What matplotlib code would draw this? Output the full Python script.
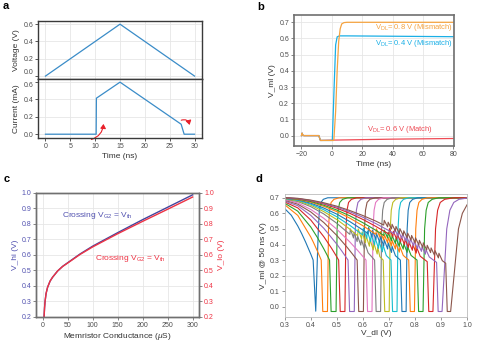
import matplotlib as mpl
mpl.use('Agg')
import matplotlib.pyplot as plt
from matplotlib.patches import FancyArrowPatch

plt.rcParams['font.family'] = ['Liberation Sans', 'DejaVu Sans']
plt.rcParams['mathtext.fontset'] = 'custom'
plt.rcParams['mathtext.rm'] = 'Liberation Sans'
plt.rcParams['mathtext.it'] = 'Liberation Sans:italic'

# ---------------- data ----------------
# panel a
a_t_volt = [0, 15, 30]
a_volt = [0.0, 0.6, 0.0]
a_t_cur = [0, 10.2, 10.25, 15, 27.3, 27.9, 30]
a_cur = [0.0, 0.0, 0.415, 0.6, 0.115, 0.0, 0.0]

# panel b
b_t_08 = [-20, -19.6, -19.2, -18.5, -8.6, -7.5, 1.3, 2.5, 3.5, 4.5, 5.5, 6.5, 8, 10, 80]
b_v_08 = [0.0, 0.015, 0.004, 0.0, 0.0, -0.03, -0.03, 0.15, 0.4, 0.58, 0.66, 0.69, 0.698, 0.70, 0.70]
b_t_04 = [-20, -19.6, -19.2, -18.5, -8.6, -7.5, 0.3, 1.5, 2.5, 3.5, 5, 10, 80]
b_v_04 = [0.0, 0.015, 0.004, 0.0, 0.0, -0.03, -0.03, 0.3, 0.56, 0.61, 0.616, 0.616, 0.611]
b_t_06 = [-20, -19.6, -19.2, -18.5, -8.6, -7.5, 0, 20, 40, 60, 80]
b_v_06 = [0.0, 0.015, 0.004, 0.0, 0.0, -0.03, -0.028, -0.025, -0.022, -0.02, -0.018]

# panel c
c_g = [3, 4, 5, 7, 10, 15, 20, 25, 30, 40, 50, 75, 100, 150, 200, 250, 300]
c_vhi = [0.2, 0.26, 0.3, 0.35, 0.39, 0.43, 0.455, 0.475, 0.495, 0.525, 0.548,
         0.605, 0.655, 0.742, 0.826, 0.906, 0.986]
c_vlo = [0.2, 0.26, 0.3, 0.35, 0.39, 0.43, 0.455, 0.475, 0.495, 0.524, 0.546,
         0.602, 0.65, 0.735, 0.815, 0.893, 0.972]

# panel d : one list of (V_dl, V_ml) points per sweep
d01 = [(0.30, 0.63), (0.325, 0.588), (0.35, 0.519), (0.365, 0.47), (0.38, 0.416), (0.40, 0.338),
       (0.409, 0.30), (0.419, -0.028), (0.425, 0.30), (0.429, 0.50), (0.433, 0.62), (0.439, 0.67),
       (0.448, 0.69), (0.465, 0.70), (1.0, 0.70)]
d02 = [(0.30, 0.655), (0.35, 0.587), (0.40, 0.448), (0.41, 0.414), (0.425, 0.359), (0.44, 0.30),
       (0.446, -0.03), (0.464, -0.03), (0.468, 0.50), (0.472, 0.62), (0.478, 0.67), (0.489, 0.69),
       (0.509, 0.70), (1.0, 0.70)]
d03 = [(0.30, 0.665), (0.35, 0.614), (0.40, 0.512), (0.425, 0.446), (0.45, 0.372), (0.462, 0.334),
       (0.472, 0.30), (0.478, -0.03), (0.497, -0.03), (0.501, 0.50), (0.505, 0.62), (0.511, 0.67),
       (0.522, 0.69), (0.542, 0.70), (1.0, 0.70)]
d04 = [(0.30, 0.673), (0.35, 0.635), (0.40, 0.557), (0.45, 0.45), (0.48, 0.375), (0.495, 0.334),
       (0.507, 0.30), (0.513, -0.03), (0.531, -0.03), (0.535, 0.50), (0.539, 0.62), (0.545, 0.67),
       (0.556, 0.69), (0.576, 0.70), (1.0, 0.70)]
d05 = [(0.30, 0.679), (0.35, 0.649), (0.40, 0.587), (0.45, 0.504), (0.50, 0.402), (0.52, 0.356),
       (0.543, 0.30), (0.549, -0.03), (0.567, -0.03), (0.571, 0.50), (0.575, 0.62), (0.581, 0.67),
       (0.592, 0.69), (0.612, 0.70), (1.0, 0.70)]
d06 = [(0.30, 0.684), (0.35, 0.659), (0.40, 0.609), (0.45, 0.541), (0.50, 0.458), (0.54, 0.381),
       (0.56, 0.339), (0.578, 0.30), (0.584, -0.03), (0.602, -0.03), (0.606, 0.50), (0.61, 0.62),
       (0.616, 0.67), (0.627, 0.69), (0.647, 0.70), (1.0, 0.70)]
d07 = [(0.30, 0.688), (0.35, 0.667), (0.40, 0.625), (0.45, 0.568), (0.50, 0.498), (0.55, 0.416),
       (0.58, 0.362), (0.612, 0.30), (0.618, -0.03), (0.635, -0.03), (0.639, 0.50), (0.643, 0.62),
       (0.649, 0.67), (0.66, 0.69), (0.68, 0.70), (1.0, 0.70)]
d08 = [(0.30, 0.691), (0.35, 0.676), (0.40, 0.643), (0.45, 0.596), (0.50, 0.536), (0.55, 0.465),
       (0.552, 0.50), (0.564, 0.442), (0.566, 0.477), (0.578, 0.419), (0.58, 0.454), (0.592, 0.396),
       (0.594, 0.431), (0.606, 0.372), (0.608, 0.407), (0.62, 0.347), (0.645, 0.30), (0.651, -0.03),
       (0.668, -0.03), (0.672, 0.50), (0.676, 0.62), (0.682, 0.67), (0.693, 0.69), (0.713, 0.70),
       (1.0, 0.70)]
d09 = [(0.30, 0.693), (0.35, 0.68), (0.40, 0.652), (0.45, 0.611), (0.50, 0.56), (0.55, 0.4985),
       (0.58, 0.456), (0.582, 0.50), (0.595, 0.435), (0.597, 0.48), (0.61, 0.412), (0.612, 0.457),
       (0.625, 0.389), (0.627, 0.434), (0.64, 0.365), (0.642, 0.41), (0.655, 0.339), (0.657, 0.384),
       (0.665, 0.322), (0.678, 0.30), (0.684, -0.03), (0.701, -0.03), (0.705, 0.50), (0.709, 0.62),
       (0.715, 0.67), (0.726, 0.69), (0.746, 0.70), (1.0, 0.70)]
d10 = [(0.30, 0.695), (0.35, 0.684), (0.40, 0.659), (0.45, 0.623), (0.50, 0.578), (0.55, 0.523),
       (0.60, 0.461), (0.602, 0.506), (0.615, 0.44), (0.617, 0.485), (0.63, 0.419), (0.632, 0.464),
       (0.645, 0.398), (0.647, 0.443), (0.66, 0.375), (0.662, 0.42), (0.675, 0.353), (0.677, 0.398),
       (0.69, 0.329), (0.708, 0.30), (0.714, -0.03), (0.731, -0.03), (0.735, 0.50), (0.739, 0.62),
       (0.745, 0.67), (0.756, 0.69), (0.776, 0.70), (1.0, 0.70)]
d11 = [(0.30, 0.697), (0.35, 0.687), (0.40, 0.6655), (0.45, 0.634), (0.50, 0.595), (0.55, 0.547),
       (0.60, 0.493), (0.62, 0.469), (0.622, 0.509), (0.635, 0.45), (0.637, 0.49), (0.65, 0.432),
       (0.652, 0.472), (0.665, 0.412), (0.667, 0.452), (0.68, 0.391), (0.682, 0.431), (0.695, 0.371),
       (0.697, 0.411), (0.71, 0.349), (0.712, 0.389), (0.725, 0.328), (0.744, 0.30), (0.75, -0.03),
       (0.766, -0.03), (0.77, 0.50), (0.774, 0.62), (0.78, 0.67), (0.791, 0.69), (0.811, 0.70),
       (1.0, 0.70)]
d12 = [(0.30, 0.698), (0.35, 0.69), (0.40, 0.672), (0.45, 0.645), (0.50, 0.611), (0.55, 0.569),
       (0.60, 0.5205), (0.65, 0.466), (0.652, 0.501), (0.665, 0.448), (0.667, 0.483), (0.68, 0.429),
       (0.682, 0.464), (0.695, 0.411), (0.697, 0.446), (0.71, 0.392), (0.712, 0.427), (0.725, 0.371),
       (0.727, 0.406), (0.74, 0.351), (0.742, 0.386), (0.755, 0.33), (0.776, 0.30), (0.782, -0.03),
       (0.798, -0.03), (0.803, 0.50), (0.808, 0.62), (0.815, 0.67), (0.827, 0.69), (0.848, 0.70),
       (1.0, 0.70)]
d13 = [(0.30, 0.699), (0.35, 0.692), (0.40, 0.676), (0.45, 0.652), (0.50, 0.621), (0.55, 0.584),
       (0.60, 0.54), (0.65, 0.491), (0.68, 0.458), (0.682, 0.493), (0.695, 0.442), (0.697, 0.477),
       (0.71, 0.424), (0.712, 0.459), (0.725, 0.406), (0.727, 0.441), (0.74, 0.388), (0.742, 0.423),
       (0.755, 0.37), (0.757, 0.405), (0.77, 0.35), (0.772, 0.385), (0.785, 0.33), (0.808, 0.30),
       (0.814, -0.03), (0.831, -0.03), (0.837, 0.50), (0.843, 0.62), (0.851, 0.67), (0.866, 0.69),
       (0.891, 0.70), (1.0, 0.70)]
d14 = [(0.30, 0.70), (0.35, 0.694), (0.40, 0.681), (0.45, 0.66), (0.50, 0.633), (0.55, 0.60),
       (0.60, 0.561), (0.65, 0.516), (0.70, 0.467), (0.702, 0.502), (0.715, 0.45), (0.717, 0.485),
       (0.73, 0.433), (0.732, 0.468), (0.745, 0.417), (0.747, 0.452), (0.76, 0.399), (0.762, 0.434),
       (0.775, 0.381), (0.777, 0.416), (0.79, 0.363), (0.792, 0.398), (0.805, 0.345), (0.807, 0.38),
       (0.82, 0.325), (0.847, 0.29), (0.853, -0.03), (0.869, -0.03), (0.879, 0.50), (0.887, 0.62),
       (0.897, 0.67), (0.914, 0.69), (0.949, 0.70), (1.0, 0.70)]
d15 = [(0.30, 0.70), (0.35, 0.695), (0.40, 0.683), (0.45, 0.664), (0.50, 0.64), (0.55, 0.61),
       (0.60, 0.575), (0.65, 0.534), (0.70, 0.489), (0.72, 0.469), (0.722, 0.499), (0.735, 0.454),
       (0.737, 0.484), (0.75, 0.439), (0.752, 0.469), (0.765, 0.423), (0.767, 0.453), (0.78, 0.407),
       (0.782, 0.437), (0.795, 0.391), (0.797, 0.421), (0.81, 0.373), (0.812, 0.403), (0.825, 0.356),
       (0.827, 0.386), (0.84, 0.338), (0.842, 0.368), (0.855, 0.32), (0.883, 0.285), (0.889, -0.03),
       (0.904, -0.03), (0.922, 0.50), (0.934, 0.62), (0.949, 0.67), (0.969, 0.69), (1.0, 0.698)]
d16 = [(0.30, 0.701), (0.35, 0.6965), (0.40, 0.685), (0.45, 0.668), (0.50, 0.646), (0.55, 0.618),
       (0.60, 0.586), (0.65, 0.55), (0.68, 0.525), (0.682, 0.555), (0.695, 0.513), (0.697, 0.543),
       (0.71, 0.50), (0.712, 0.53), (0.725, 0.486), (0.727, 0.516), (0.74, 0.472), (0.742, 0.502),
       (0.755, 0.458), (0.757, 0.488), (0.77, 0.443), (0.772, 0.473), (0.785, 0.428), (0.787, 0.458),
       (0.80, 0.413), (0.802, 0.443), (0.815, 0.397), (0.817, 0.427), (0.83, 0.381), (0.832, 0.411),
       (0.845, 0.365), (0.847, 0.395), (0.86, 0.348), (0.862, 0.378), (0.875, 0.331), (0.877, 0.361),
       (0.89, 0.314), (0.892, 0.344), (0.905, 0.296), (0.918, 0.28), (0.924, -0.03), (0.937, -0.03),
       (0.967, 0.50), (0.982, 0.60), (1.0, 0.655)]
d_sweeps = [d01, d02, d03, d04, d05, d06, d07, d08, d09, d10, d11, d12, d13, d14, d15, d16]

# ---------------- style ----------------
grid_c = '#E6E6E6'
tick_c = '#4D4D4D'
fs_tick = 5
fs_lab = 6


def style(ax, edge, lw):
    for s in ax.spines.values():
        s.set_color(edge)
        s.set_linewidth(lw)
    ax.tick_params(labelsize=fs_tick, labelcolor=tick_c, color=edge,
                   length=2, width=0.6, pad=1.5)
    ax.grid(True, color=grid_c, lw=0.6)
    ax.set_axisbelow(True)


fig = plt.figure(figsize=(4.81, 3.41), dpi=100)

# ======================== panel a ========================
ax_a1 = fig.add_axes([0.079, 0.768, 0.341, 0.170])
ax_a2 = fig.add_axes([0.079, 0.595, 0.341, 0.173])
for ax in (ax_a1, ax_a2):
    style(ax, '#3A3A3A', 1.0)
    ax.set_xlim(-1.5, 31.5)
    ax.set_xticks([0, 5, 10, 15, 20, 25, 30])
    ax.set_yticks([0.0, 0.2, 0.4, 0.6])
    ax.set_yticklabels(['0.0', '0.2', '0.4', '0.6'])

ax_a1.plot(a_t_volt, a_volt, color='#3A8CC8', lw=0.9)
ax_a1.set_ylim(-0.035, 0.635)
ax_a1.tick_params(axis='x', labelbottom=False, length=0)
ax_a1.set_ylabel('Voltage (V)', fontsize=fs_lab, color='#333333', labelpad=2)
# keep the two stacked labels at the shared edge apart
ax_a1.get_yticklabels()[0].set_va('bottom')

ax_a2.plot(a_t_cur, a_cur, color='#3A8CC8', lw=0.9)
ax_a2.set_ylim(-0.045, 0.635)
ax_a2.set_ylabel('Current (mA)', fontsize=fs_lab, color='#333333', labelpad=2)
ax_a2.set_xlabel('Time (ns)', fontsize=fs_lab, color='#333333', labelpad=2)
ax_a2.get_yticklabels()[-1].set_va('top')

arr1 = FancyArrowPatch((8.7, -0.07), (11.7, 0.15), connectionstyle='arc3,rad=0.4',
                       arrowstyle='-|>,head_length=2.5,head_width=1.6', color='#E8202A',
                       lw=0.8, clip_on=False)
arr2 = FancyArrowPatch((26.8, 0.15), (29.1, 0.075), connectionstyle='arc3,rad=-0.7',
                       arrowstyle='-|>,head_length=2.5,head_width=1.6', color='#E8202A',
                       lw=0.8, clip_on=False)
ax_a2.add_patch(arr1)
ax_a2.add_patch(arr2)

# ======================== panel b ========================
ax_b = fig.add_axes([0.611, 0.572, 0.333, 0.384])
style(ax_b, '#707070', 1.2)
ax_b.plot(b_t_06, b_v_06, color='#EE4B55', lw=0.9)
ax_b.plot(b_t_04, b_v_04, color='#1AAFE6', lw=0.9)
ax_b.plot(b_t_08, b_v_08, color='#F5A340', lw=0.9)
ax_b.set_xlim(-25, 80.5)
ax_b.set_ylim(-0.064, 0.745)
ax_b.set_xticks([-20, 0, 20, 40, 60, 80])
ax_b.set_yticks([0.0, 0.1, 0.2, 0.3, 0.4, 0.5, 0.6, 0.7])
ax_b.set_ylabel('V_ml (V)', fontsize=fs_lab, color='#333333', labelpad=2)
ax_b.set_xlabel('Time (ns)', fontsize=fs_lab, color='#333333', labelpad=2)
ax_b.text(79.5, 0.667, r'V$_{\rm DL}$= 0.8 V (Mismatch)', color='#F5A340',
          fontsize=5.5, ha='right', va='center')
ax_b.text(79.5, 0.572, r'V$_{\rm DL}$= 0.4 V (Mismatch)', color='#1AAFE6',
          fontsize=5.5, ha='right', va='center')
ax_b.text(45, 0.04, r'V$_{\rm DL}$= 0.6 V (Match)', color='#EE4B55',
          fontsize=5.5, ha='center', va='center')

# ======================== panel c ========================
c_blue = '#5252B0'
c_red = '#EE3344'
ax_c = fig.add_axes([0.075, 0.071, 0.339, 0.364])
style(ax_c, '#707070', 1.0)
ax_c.plot(c_g, c_vhi, color='#45459E', lw=1.0)
ax_c.plot(c_g, c_vlo, color=c_red, lw=1.0)
ax_c.set_xlim(-13, 313)
ax_c.set_ylim(0.2, 1.0)
ax_c.set_xticks([0, 50, 100, 150, 200, 250, 300])
cy = [0.2, 0.3, 0.4, 0.5, 0.6, 0.7, 0.8, 0.9, 1.0]
ax_c.set_yticks(cy)
ax_c.set_yticklabels(['%.1f' % v for v in cy])
ax_c.tick_params(axis='y', labelcolor=c_blue)
ax_c.set_ylabel('V_hi (V)', fontsize=fs_lab, color=c_blue, labelpad=2)
ax_c.set_xlabel(r'Memristor Conductance ($\mu$S)', fontsize=fs_lab, color='#333333', labelpad=2)
ax_c2 = ax_c.twinx()
ax_c2.set_ylim(0.2, 1.0)
ax_c2.set_yticks(cy)
ax_c2.set_yticklabels(['%.1f' % v for v in cy])
ax_c2.tick_params(axis='y', labelsize=fs_tick, labelcolor=c_red, color='#707070',
                  length=2, width=0.6, pad=1.5)
for s in ax_c2.spines.values():
    s.set_color('#707070')
    s.set_linewidth(1.0)
ax_c2.set_ylabel('V_lo (V)', fontsize=fs_lab, color=c_red, labelpad=3)
ax_c.text(110, 0.853, r'Crossing V$_{\rm G2}$ = V$_{\rm th}$', color=c_blue,
          fontsize=6, ha='center', va='center')
ax_c.text(176, 0.578, r'Crossing V$_{\rm G2}$ = V$_{\rm th}$', color=c_red,
          fontsize=6, ha='center', va='center')

# ======================== panel d ========================
ax_d = fig.add_axes([0.592, 0.071, 0.379, 0.360])
for s in ax_d.spines.values():
    s.set_color('#BBBBBB')
    s.set_linewidth(0.6)
ax_d.tick_params(labelsize=fs_tick, labelcolor=tick_c, color='#888888',
                 length=2, width=0.6, pad=1.5)
ax_d.axhline(0.2, color=grid_c, lw=0.8, zorder=0)
tab = plt.rcParams['axes.prop_cycle'].by_key()['color']
for k, pts in enumerate(d_sweeps):
    xs = [p[0] for p in pts]
    ys = [p[1] for p in pts]
    ax_d.plot(xs, ys, color=tab[k % 10], lw=0.8)
ax_d.set_xlim(0.3, 1.0)
ax_d.set_ylim(-0.064, 0.724)
dx = [0.3, 0.4, 0.5, 0.6, 0.7, 0.8, 0.9, 1.0]
ax_d.set_xticks(dx)
ax_d.set_xticklabels(['%.1f' % v for v in dx])
dy = [0.0, 0.1, 0.2, 0.3, 0.4, 0.5, 0.6, 0.7]
ax_d.set_yticks(dy)
ax_d.set_yticklabels(['%.1f' % v for v in dy])
ax_d.set_xlabel('V_dl (V)', fontsize=fs_lab, color='#333333', labelpad=1)
ax_d.set_ylabel('V_ml @ 50 ns (V)', fontsize=fs_lab, color='#333333', labelpad=2)

# panel letters
for lab, x, y in [('a', 0.006, 0.982), ('b', 0.534, 0.980), ('c', 0.008, 0.475), ('d', 0.532, 0.475)]:
    fig.text(x, y, lab, fontsize=8, fontweight='bold', ha='left', va='center')

fig.savefig('out.png', dpi=100)
